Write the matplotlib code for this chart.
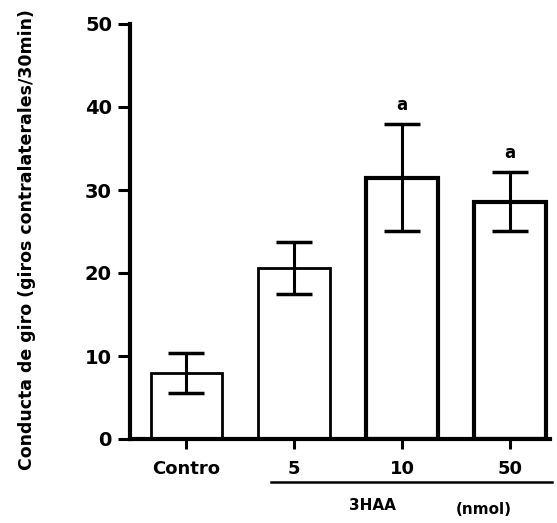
import matplotlib
matplotlib.use("Agg")
import matplotlib.pyplot as plt
import matplotlib.transforms as mtransforms
import numpy as np

# Data
groups = ["Contro", "5", "10", "50"]
means = [8.0, 20.6, 31.5, 28.6]
errors = [2.4, 3.1, 6.4, 3.6]
marks = ["", "", "a", "a"]

plt.rcParams['font.family'] = ['DejaVu Sans']

fig = plt.figure(figsize=(5.57, 5.23), dpi=100)
ax = fig.add_axes([130 / 557, 84 / 523, 420 / 557, 415 / 523])

x = np.arange(len(groups))
edge_w = [2.0, 2.0, 3.0, 3.0]
ax.bar(x, means, width=0.66, color="white", edgecolor="black", linewidth=edge_w, zorder=2)
ax.errorbar(x, means, yerr=errors, fmt="none", ecolor="black", elinewidth=2.2,
            capsize=13, capthick=2.5, zorder=3)

for xi, m, e, s in zip(x, means, errors, marks):
    if s:
        ax.text(xi, m + e + 2.3, s, ha="center", va="center", fontsize=12, fontweight="bold")

ax.set_xlim(-0.52, 3.37)
ax.set_ylim(0, 50)
ax.set_yticks(np.arange(0, 51, 10))
ax.set_xticks(x)
ax.set_xticklabels(groups)

for side in ["top", "right"]:
    ax.spines[side].set_visible(False)
ax.spines["left"].set_linewidth(3)
ax.spines["bottom"].set_linewidth(3)
ax.tick_params(axis="y", length=9, width=2.2, labelsize=14, pad=4)
ax.tick_params(axis="x", length=7, width=2.2, labelsize=13, pad=8)
for lab in ax.get_xticklabels() + ax.get_yticklabels():
    lab.set_fontweight("bold")

# bracket under the 3HAA doses
trans = mtransforms.blended_transform_factory(ax.transData, fig.transFigure)
ax.plot([0.79, 3.39], [1 - 482 / 523, 1 - 482 / 523], color="black", lw=1.8,
        transform=trans, clip_on=False)
fig.text(372 / 557, 1 - 505 / 523, "3HAA", ha="center", va="center", fontsize=11, fontweight="bold")
fig.text(484 / 557, 1 - 510 / 523, "(nmol)", ha="center", va="center", fontsize=11, fontweight="bold")

fig.text(27 / 557, 1 - 240 / 523, "Conducta de giro (giros contralaterales/30min)",
         rotation=90, ha="center", va="center", fontsize=12.5, fontweight="bold")

fig.savefig("out.png", dpi=100)
